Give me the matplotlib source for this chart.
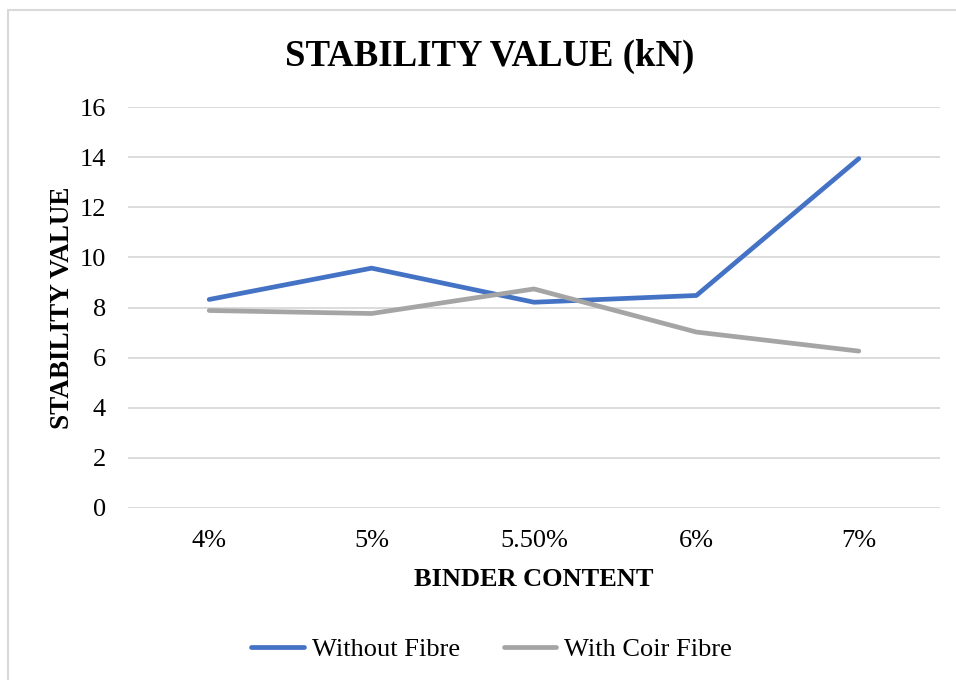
import matplotlib
matplotlib.use('Agg')

import matplotlib.pyplot as plt
from matplotlib.patches import Rectangle

plt.rcParams['font.family'] = ['Liberation Serif', 'DejaVu Serif']

# данные
binder = ['4%', '5%', '5.50%', '6%', '7%']
without_fibre = [8.32, 9.57, 8.21, 8.48, 13.94]
with_coir = [7.88, 7.76, 8.74, 7.02, 6.26]

W, H = 956, 680
fig = plt.figure(figsize=(W / 100, H / 100), dpi=100, facecolor='white')

# рамка диаграммы
fig.patches.append(Rectangle((8 / W, -0.05), 1.1, 1 - 10 / H + 0.05,
                             transform=fig.transFigure, fill=False,
                             edgecolor='#d9d9d9', linewidth=1.5))

ax = fig.add_axes([128 / W, (H - 508) / H, 812 / W, 401 / H])
x = range(len(binder))
ax.plot(x, without_fibre, color='#4472C4', linewidth=3.4, solid_capstyle='round',
        label='Without Fibre', zorder=3)
ax.plot(x, with_coir, color='#A5A5A5', linewidth=3.4, solid_capstyle='round',
        label='With Coir Fibre', zorder=3)

ax.set_xlim(-0.5, len(binder) - 0.5)
ax.set_ylim(0, 16)
ax.set_yticks(range(0, 17, 2))
ax.set_xticks(list(x))
ax.set_xticklabels(binder)
ax.grid(True, axis='y', color='#d9d9d9', linewidth=1.3)
ax.set_axisbelow(True)
for s in ax.spines.values():
    s.set_visible(False)
ax.tick_params(length=0, labelsize=19, colors='#000000')
ax.tick_params(axis='y', pad=16)
ax.tick_params(axis='x', pad=16)

fig.text(490 / W, 1 - 56 / H, 'STABILITY VALUE (kN)', fontsize=26.5,
         fontweight='bold', ha='center', va='center')
ax.set_ylabel('STABILITY VALUE', fontsize=19.5, fontweight='bold', labelpad=3)
ax.set_xlabel('BINDER CONTENT', fontsize=19, fontweight='bold', labelpad=11)

ax.legend(loc='center', bbox_to_anchor=(0.448, -0.352), ncol=2, frameon=False,
          fontsize=19, handlelength=2.0, handletextpad=0.3, columnspacing=1.65)

fig.savefig('out.png', dpi=100, facecolor='white')
